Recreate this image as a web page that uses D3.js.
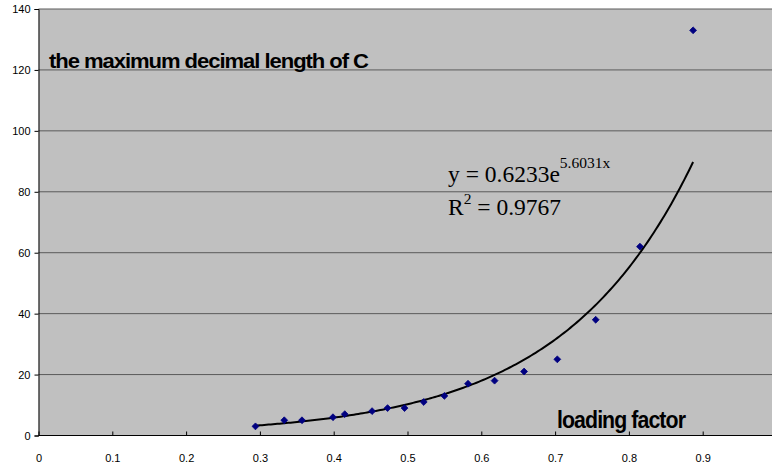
<!DOCTYPE html>
<html>
<head>
<meta charset="utf-8">
<script src="https://cdn.jsdelivr.net/npm/d3@7"></script>
<style>
  html, body { margin: 0; padding: 0; background: #fff; }
  svg { display: block; }
</style>
</head>
<body>
<div id="chart"></div>
<script>
// measured points (loading factor, max decimal length)
const loadFactor = [0.294, 0.333, 0.357, 0.399, 0.415, 0.452, 0.473, 0.496, 0.522, 0.55,
                    0.582, 0.618, 0.658, 0.703, 0.755, 0.815, 0.887];
const maxLength  = [3, 5, 5, 6, 7, 8, 9, 9, 11, 13, 17, 18, 21, 25, 38, 62, 133];
const yTicks = [0, 20, 40, 60, 80, 100, 120, 140];
const xTicks = [0, 0.1, 0.2, 0.3, 0.4, 0.5, 0.6, 0.7, 0.8, 0.9];
// exponential trendline y = a * e^(b x)
const trendA = 0.6233;
const trendB = 5.6031;

const width = 772, height = 468;
const plotLeft = 38.5, plotTop = 9, plotBottom = 435.5;

const svg = d3.select("#chart").append("svg")
    .attr("width", width)
    .attr("height", height);

const x = d3.scaleLinear().domain([0, 1]).range([plotLeft, plotLeft + 738]);
const y = d3.scaleLinear().domain([0, 140]).range([plotBottom, plotTop]);

// plot area
svg.append("rect")
    .attr("x", plotLeft).attr("y", plotTop)
    .attr("width", width - plotLeft + 5).attr("height", plotBottom - plotTop)
    .attr("fill", "#c0c0c0");

// gridlines
svg.append("g")
    .selectAll("line")
    .data(yTicks.filter(d => d > 0))
    .enter().append("line")
    .attr("x1", plotLeft).attr("x2", width)
    .attr("y1", d => y(d)).attr("y2", d => y(d))
    .attr("stroke", "#5a5a5a")
    .attr("stroke-width", 1);

// y axis
const yAxis = svg.append("g")
    .attr("transform", `translate(${plotLeft},0)`)
    .call(d3.axisLeft(y).tickValues(yTicks).tickSize(4).tickPadding(4).tickFormat(d3.format("d")));
yAxis.select(".domain").attr("stroke", "#000");
yAxis.selectAll(".tick line").attr("stroke", "#000");
yAxis.selectAll("text")
    .attr("font-family", "Arial, 'Liberation Sans', sans-serif")
    .attr("font-size", 11).attr("fill", "#000");

// x axis, ticks pointing inward
const xAxis = svg.append("g")
    .attr("transform", `translate(0,${plotBottom})`)
    .call(d3.axisBottom(x).tickValues(xTicks).tickSizeInner(-4).tickSizeOuter(0).tickPadding(19)
        .tickFormat(d => d === 0 ? "0" : d3.format(".1f")(d)));
xAxis.select(".domain").attr("stroke", "#000").attr("d", `M${plotLeft},0H${width}`);
xAxis.selectAll(".tick line").attr("stroke", "#000");
xAxis.selectAll("text")
    .attr("font-family", "Arial, 'Liberation Sans', sans-serif")
    .attr("font-size", 11).attr("fill", "#000");

// trendline
const xs = d3.range(0, 201).map(i => loadFactor[0] + (loadFactor[loadFactor.length - 1] - loadFactor[0]) * i / 200);
const line = d3.line()
    .x(d => x(d))
    .y(d => y(trendA * Math.exp(trendB * d)));
svg.append("path")
    .datum(xs)
    .attr("d", line)
    .attr("fill", "none")
    .attr("stroke", "#000")
    .attr("stroke-width", 2);

// markers
const points = loadFactor.map((v, i) => ({ x: v, y: maxLength[i] }));
svg.append("g")
    .selectAll("path")
    .data(points)
    .enter().append("path")
    .attr("d", d3.symbol().type(d3.symbolDiamond2).size(30))
    .attr("transform", d => `translate(${x(d.x)},${y(d.y)})`)
    .attr("fill", "#000080")
    .attr("stroke", "#000080")
    .attr("stroke-width", 0.8);

// axis titles inside plot
svg.append("text")
    .attr("x", 49).attr("y", 68)
    .attr("font-family", "Arial, 'Liberation Sans', sans-serif")
    .attr("font-size", 21).attr("font-weight", "bold")
    .attr("letter-spacing", -1)
    .attr("textLength", 319).attr("lengthAdjust", "spacingAndGlyphs")
    .text("the maximum decimal length of C");

svg.append("text")
    .attr("x", 557).attr("y", 428)
    .attr("font-family", "Arial, 'Liberation Sans', sans-serif")
    .attr("font-size", 23).attr("font-weight", "bold")
    .attr("letter-spacing", -1)
    .attr("textLength", 128).attr("lengthAdjust", "spacingAndGlyphs")
    .text("loading factor");

// equation
const eq = svg.append("text")
    .attr("x", 448).attr("y", 182)
    .attr("font-family", "'Times New Roman', 'Liberation Serif', serif")
    .attr("font-size", 23.5);
eq.append("tspan").text("y = 0.6233e");
eq.append("tspan").attr("dy", -14).attr("font-size", 15.5).text("5.6031x");

const r2 = svg.append("text")
    .attr("x", 448).attr("y", 215)
    .attr("font-family", "'Times New Roman', 'Liberation Serif', serif")
    .attr("font-size", 23.5);
r2.append("tspan").text("R");
r2.append("tspan").attr("dy", -11).attr("font-size", 15.5).text("2");
r2.append("tspan").attr("dy", 11).text(" = 0.9767");
</script>
</body>
</html>
